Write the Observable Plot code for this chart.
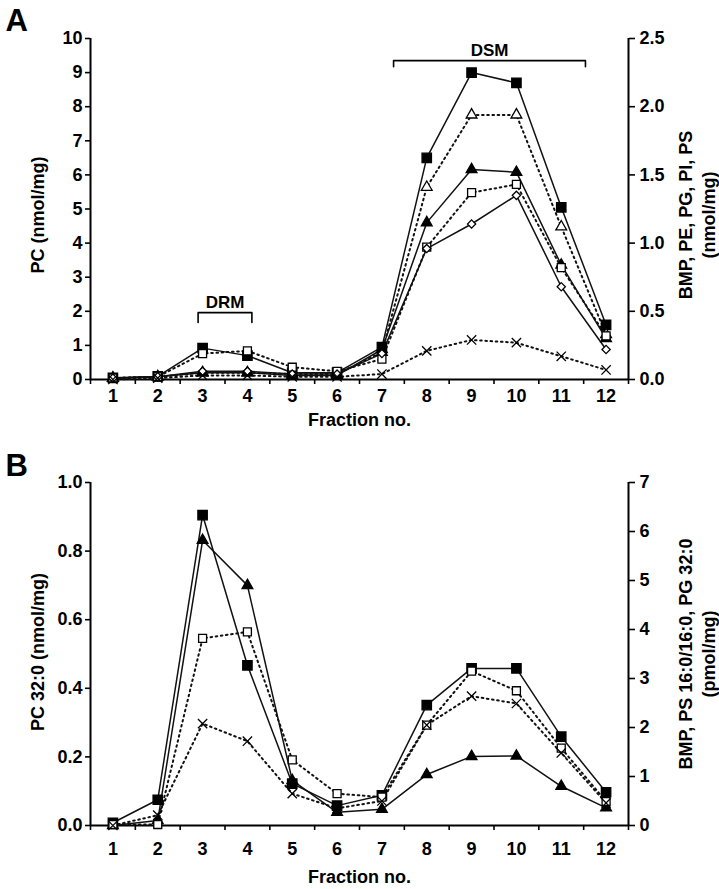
<!DOCTYPE html>
<html><head><meta charset="utf-8">
<script src="https://cdn.jsdelivr.net/npm/d3@7"></script>
<script src="https://cdn.jsdelivr.net/npm/@observablehq/plot@0.6"></script>
<style>
body{margin:0;background:#fff;}
#chart svg{display:block;}
</style></head><body><div id="chart"></div>
<script>
const fractions = [1,2,3,4,5,6,7,8,9,10,11,12];

// Panel A — PC on left axis (nmol/mg, 0–10); others on right axis (nmol/mg, 0–2.5)
const aPC        = [0.05, 0.09, 0.92, 0.70, 0.20, 0.20, 0.95, 6.50, 9.00, 8.70, 5.05, 1.60];
const aOpenTri   = [0.01, 0.02, 0.05, 0.05, 0.04, 0.04, 0.20, 1.41, 1.94, 1.94, 1.12, 0.33];
const aFilledTri = [0.01, 0.02, 0.05, 0.05, 0.03, 0.03, 0.22, 1.15, 1.54, 1.52, 0.84, 0.30];
const aOpenSq    = [0.01, 0.02, 0.19, 0.21, 0.09, 0.06, 0.15, 0.97, 1.37, 1.43, 0.82, 0.32];
const aDiamond   = [0.01, 0.02, 0.06, 0.06, 0.04, 0.04, 0.19, 0.96, 1.14, 1.35, 0.68, 0.22];
const aCross     = [0.00, 0.01, 0.03, 0.03, 0.02, 0.02, 0.04, 0.21, 0.29, 0.27, 0.17, 0.07];
const aLeftTicks  = [0,1,2,3,4,5,6,7,8,9,10];
const aRightTicks = [0.0, 0.5, 1.0, 1.5, 2.0, 2.5];
const aBrackets = [
  {label: "DRM", x1: 2.9, x2: 4.1, y: 1.96, drop: 0.29},
  {label: "DSM", x1: 7.26, x2: 11.54, y: 9.35, drop: 0.18}
];

// Panel B — PC 32:0 on left axis (nmol/mg, 0–1); others on right axis (pmol/mg, 0–7)
const bPC        = [0.008, 0.075, 0.905, 0.467, 0.122, 0.058, 0.088, 0.351, 0.458, 0.458, 0.259, 0.097];
const bFilledTri = [0.00, 0.10, 5.82, 4.90, 0.92, 0.27, 0.33, 1.04, 1.41, 1.42, 0.80, 0.36];
const bOpenSq    = [0.02, 0.02, 3.82, 3.95, 1.34, 0.65, 0.58, 2.05, 3.15, 2.75, 1.58, 0.49];
const bCross     = [0.00, 0.21, 2.08, 1.72, 0.65, 0.35, 0.50, 2.05, 2.64, 2.49, 1.48, 0.46];
const bLeftTicks  = [0.0, 0.2, 0.4, 0.6, 0.8, 1.0];
const bRightTicks = [0,1,2,3,4,5,6,7];

const FONT = "'Liberation Sans', Arial, sans-serif";
const DOT = "1.6,3.6";
const FS = 18;

const STY = {
  filledSq:  {symbol: "square",   fill: "black", r: 5.3, dash: null},
  openTri:   {symbol: "triangle", fill: "white", r: 4.0, dash: DOT},
  filledTri: {symbol: "triangle", fill: "black", r: 4.0, dash: null},
  openSq:    {symbol: "square",   fill: "white", r: 4.5, dash: DOT},
  diamond:   {symbol: "diamond2", fill: "white", r: 3.7, dash: null},
  cross:     {symbol: "times",    fill: "none",  r: 4.3, dash: DOT}
};

function rows(values, scale) {
  return fractions.map((f, i) => ({x: f, y: values[i] * scale}));
}

function panel(o) {
  const marks = [];
  marks.push(Plot.ruleX([0.5], {stroke: "black", strokeWidth: 2}));
  marks.push(Plot.ruleX([12.5], {stroke: "black", strokeWidth: 2}));
  marks.push(Plot.ruleY([0], {stroke: "black", strokeWidth: 2}));
  marks.push(Plot.axisX({ticks: d3.range(0.5, 12.6, 1), tickSize: 5, strokeWidth: 1.6, tickFormat: () => "", label: null}));
  marks.push(Plot.axisX({ticks: fractions, tickSize: 0, tickPadding: o.xPad, fontSize: FS, fontWeight: "bold", label: null}));
  marks.push(Plot.axisY({anchor: "left", ticks: o.leftTicks, tickSize: 5, tickPadding: 3, strokeWidth: 1.6,
    tickFormat: o.leftFmt, fontSize: FS, fontWeight: "bold", label: null}));
  marks.push(Plot.axisY({anchor: "right", ticks: o.rightTicks.map(t => t * o.r2l), tickSize: 6, tickPadding: 5, strokeWidth: 1.6,
    tickFormat: (d) => o.rightFmt(d / o.r2l), fontSize: FS, fontWeight: "bold", label: null}));
  (o.brackets || []).forEach(b => {
    marks.push(Plot.line([{x: b.x1, y: b.y - b.drop}, {x: b.x1, y: b.y}, {x: b.x2, y: b.y}, {x: b.x2, y: b.y - b.drop}],
      {x: "x", y: "y", stroke: "black", strokeWidth: 1.6}));
    marks.push(Plot.text([b], {x: d => (d.x1 + d.x2) / 2, y: "y", text: "label", dy: -5, lineAnchor: "bottom",
      fontSize: 17, fontWeight: "bold"}));
  });
  o.series.forEach(s => {
    const st = STY[s.style];
    marks.push(Plot.line(rows(s.values, s.scale), {x: "x", y: "y", stroke: "#111",
      strokeWidth: st.dash ? 2 : 1.5, strokeDasharray: st.dash, strokeLinecap: st.dash ? "round" : "butt"}));
  });
  o.series.forEach(s => {
    const st = STY[s.style];
    marks.push(Plot.dot(rows(s.values, s.scale), {x: "x", y: "y", symbol: st.symbol, r: st.r,
      fill: st.fill, stroke: "black", strokeWidth: 1.3}));
  });
  marks.push(Plot.text([o.leftTitle], {frameAnchor: "left", dx: -52, dy: o.leftTitleDy, rotate: -90,
    textAnchor: "middle", lineAnchor: "middle", fontSize: FS, fontWeight: "bold"}));
  marks.push(Plot.text([o.rightTitle], {frameAnchor: "right", dx: 68, dy: o.rightTitleDy, rotate: -90,
    textAnchor: "middle", lineAnchor: "middle", lineHeight: 1.25, fontSize: FS, fontWeight: "bold"}));
  marks.push(Plot.text(["Fraction no."], {frameAnchor: "bottom", dy: o.xTitleDy, lineAnchor: "bottom",
    fontSize: FS, fontWeight: "bold"}));
  marks.push(Plot.text([o.letter], {frameAnchor: "top-left", dx: -85, dy: o.letterDy, textAnchor: "start",
    lineAnchor: "bottom", fontSize: 31, fontWeight: "bold"}));

  return Plot.plot({
    width: 719, height: o.height,
    marginLeft: 90, marginRight: 91, marginTop: o.marginTop, marginBottom: o.marginBottom,
    x: {type: "linear", domain: [0.5, 12.5], axis: null},
    y: {domain: [0, o.yMax], axis: null},
    style: {fontFamily: FONT, color: "black", background: "white", overflow: "visible"},
    marks
  });
}

const A = panel({
  height: 440, marginTop: 38, marginBottom: 61, yMax: 10, r2l: 4, xPad: 10,
  leftTicks: aLeftTicks, leftFmt: d => String(d),
  rightTicks: aRightTicks, rightFmt: d => d.toFixed(1),
  brackets: aBrackets,
  series: [
    {style: "filledSq",  values: aPC,        scale: 1},
    {style: "openTri",   values: aOpenTri,   scale: 4},
    {style: "filledTri", values: aFilledTri, scale: 4},
    {style: "openSq",    values: aOpenSq,    scale: 4},
    {style: "diamond",   values: aDiamond,   scale: 4},
    {style: "cross",     values: aCross,     scale: 4}
  ],
  leftTitle: "PC (nmol/mg)", leftTitleDy: 6,
  rightTitle: "BMP, PE, PG, PI, PS\n(nmol/mg)", rightTitleDy: 6,
  xTitleDy: 46, letter: "A", letterDy: -8
});

const B = panel({
  height: 449, marginTop: 42, marginBottom: 64, yMax: 1, r2l: 1/7, xPad: 17,
  leftTicks: bLeftTicks, leftFmt: d => d.toFixed(1),
  rightTicks: bRightTicks, rightFmt: d => String(Math.round(d)),
  brackets: [],
  series: [
    {style: "filledSq",  values: bPC,        scale: 1},
    {style: "filledTri", values: bFilledTri, scale: 1/7},
    {style: "openSq",    values: bOpenSq,    scale: 1/7},
    {style: "cross",     values: bCross,     scale: 1/7}
  ],
  leftTitle: "PC 32:0 (nmol/mg)", leftTitleDy: -2,
  rightTitle: "BMP, PS 16:0/16:0, PG 32:0\n(pmol/mg)", rightTitleDy: 0,
  xTitleDy: 57, letter: "B", letterDy: -7
});

document.getElementById("chart").append(A, B);
</script></body></html>
